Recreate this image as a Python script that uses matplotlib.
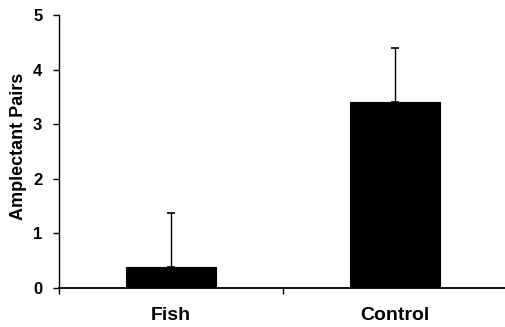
import matplotlib
matplotlib.use("Agg")
from matplotlib import pyplot as plt
import numpy as np

groups = ["Fish", "Control"]
pairs = [0.38, 3.4]
err_up = [1.0, 1.0]
y_ticks = [0, 1, 2, 3, 4, 5]

plt.rcParams["font.family"] = ["Liberation Sans", "DejaVu Sans"]
plt.rcParams["font.weight"] = "bold"

fig = plt.figure(figsize=(5.05, 3.27), dpi=100)
ax = fig.add_axes([59 / 505, 1 - 288 / 327, 448 / 505, 273 / 327])

x = np.arange(len(groups))
ax.bar(x, pairs, width=0.4, color="black", edgecolor="black", linewidth=0.8,
       yerr=[np.zeros(len(err_up)), err_up], capsize=3,
       error_kw=dict(ecolor="black", elinewidth=1.0, capthick=1.2))

ax.set_xlim(-0.5, len(groups) - 0.5)
ax.set_ylim(0, 5)
ax.set_yticks(y_ticks)
ax.set_yticklabels([str(v) for v in y_ticks], fontsize=12, fontweight="bold")

# ticks between categories, labels at bar centres
ax.set_xticks(np.arange(-0.5, len(groups)), minor=False)
ax.set_xticklabels([])
ax.set_xticks(x, minor=True)
ax.set_xticklabels(groups, minor=True, fontsize=14, fontweight="bold")
ax.tick_params(axis="x", which="minor", length=0, pad=14)
ax.tick_params(axis="x", which="major", direction="out", length=4.5, width=1)
ax.tick_params(axis="y", direction="out", length=4, width=1, pad=8)

ax.spines["top"].set_visible(False)
ax.spines["right"].set_visible(False)
ax.spines["left"].set_linewidth(1.0)
ax.spines["bottom"].set_linewidth(1.3)

ax.set_ylabel("Amplectant Pairs", fontsize=13, fontweight="bold")
ax.yaxis.set_label_coords(-0.071, 0.52)

fig.savefig("out.png", dpi=100)
